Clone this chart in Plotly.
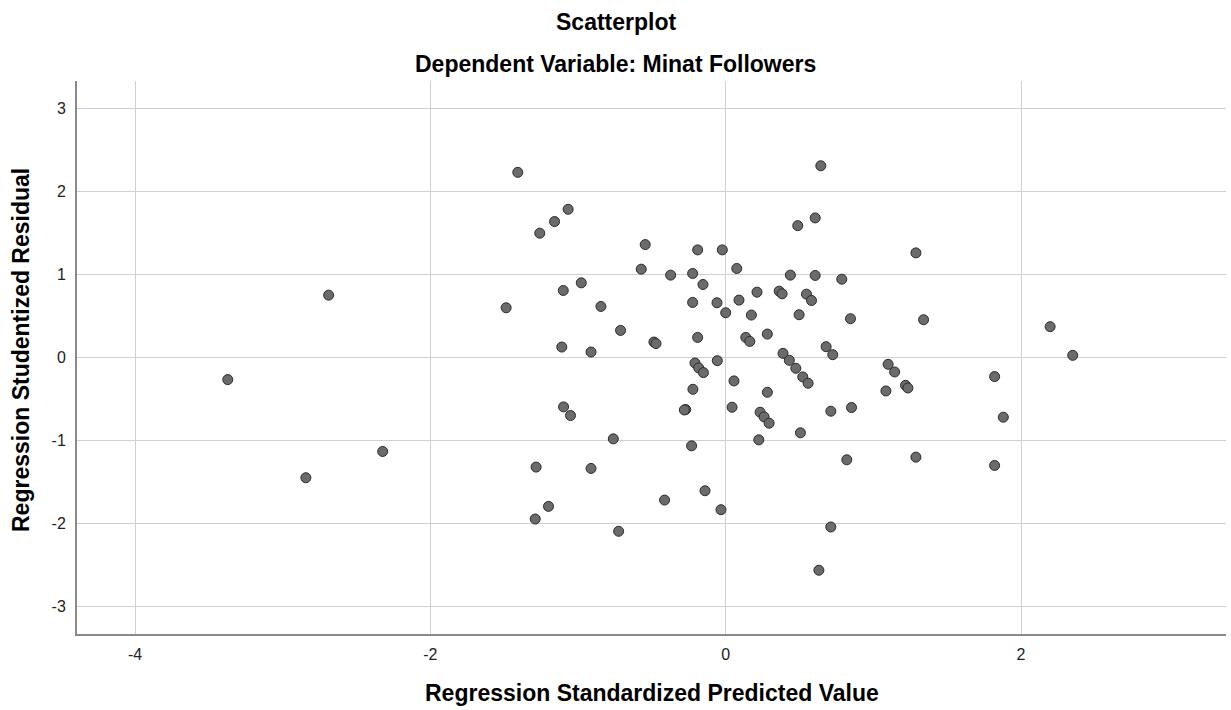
import plotly.graph_objects as go

# Regression Standardized Predicted Value
pred = [
    -1.408, -1.067, -1.159, -1.259, -0.978, -1.100, -1.487, -0.845, -1.110, -0.912,
    -2.689, -3.372,
    -1.098, -1.051, -2.323, -2.843, -1.284, -0.912, -1.200, -1.290,
    0.644, 0.606, 0.488, 1.288, -0.545, -0.190, -0.023, -0.572, -0.373, -0.224,
    0.075, 0.438, 0.606, 0.786, -0.154, -0.224, -0.059, 0.090, 0.212, 0.362,
    0.382, 0.547, 0.581, 0.000, 0.174, 0.497, 0.845, 1.340, -0.712, -0.486,
    -0.472, -0.190, 0.136, 0.163, 0.282, 0.680, 0.725, -0.057, -0.208, -0.183,
    -0.151, 0.388, 0.431, 0.475, 0.522, 0.558, 1.100, 1.144, 0.056,
    -0.222, 0.282, 1.085, 1.218, 1.234, -0.271, -0.280, 0.043, 0.233, 0.260,
    0.294, 0.712, 0.852, -0.761, -0.231, 0.224, 0.506, 0.820, 1.288, -0.140,
    -0.414, -0.032, -0.725, 0.712, 0.631,
    2.197, 2.350, 1.821, 1.880, 1.821,
]

# Regression Studentized Residual
resid = [
    2.232, 1.787, 1.639, 1.499, 0.901, 0.809, 0.601, 0.617, 0.128, 0.068,
    0.753, -0.264,
    -0.593, -0.697, -1.130, -1.446, -1.318, -1.334, -1.791, -1.943,
    2.311, 1.683, 1.590, 1.262, 1.362, 1.298, 1.298, 1.066, 0.994, 1.014,
    1.074, 0.994, 0.990, 0.945, 0.881, 0.665, 0.661, 0.693, 0.789, 0.801,
    0.769, 0.765, 0.689, 0.541, 0.513, 0.517, 0.469, 0.457, 0.328, 0.188,
    0.170, 0.244, 0.244, 0.196, 0.284, 0.132, 0.036, -0.036, -0.064, -0.124,
    -0.180, 0.052, -0.032, -0.128, -0.232, -0.308, -0.080, -0.172, -0.280,
    -0.381, -0.417, -0.401, -0.333, -0.365, -0.625, -0.630, -0.597, -0.657, -0.713,
    -0.789, -0.645, -0.601, -0.978, -1.062, -0.990, -0.905, -1.230, -1.198, -1.603,
    -1.715, -1.831, -2.091, -2.039, -2.560,
    0.373, 0.028, -0.228, -0.717, -1.298,
]

x_ticks = [-4, -2, 0, 2]
y_ticks = [-3, -2, -1, 0, 1, 2, 3]

title_text = "Scatterplot"
subtitle_text = "Dependent Variable: Minat Followers"
x_title = "Regression Standardized Predicted Value"
y_title = "Regression Studentized Residual"

FONT = "Liberation Sans, Arial, sans-serif"

fig = go.Figure(
    go.Scatter(
        x=pred, y=resid, mode="markers",
        marker=dict(size=10, color="#6b6b6b", line=dict(color="#2b2b2b", width=1)),
        hoverinfo="x+y",
    )
)

fig.update_layout(
    width=1231, height=710,
    margin=dict(l=77, r=5, t=81, b=76),
    paper_bgcolor="white", plot_bgcolor="white",
    showlegend=False,
    font=dict(family=FONT, color="#222222"),
    annotations=[
        dict(text=f"<b>{title_text}</b>", xref="paper", yref="paper",
             x=0.4687, y=(634 - 22) / 553, xanchor="center", yanchor="middle",
             showarrow=False, font=dict(size=23, color="black", family=FONT)),
        dict(text=f"<b>{subtitle_text}</b>", xref="paper", yref="paper",
             x=0.4687, y=(634 - 64) / 553, xanchor="center", yanchor="middle",
             showarrow=False, font=dict(size=23, color="black", family=FONT)),
        dict(text=f"<b>{x_title}</b>", xref="paper", yref="paper",
             x=0.5, y=(634 - 693) / 553, xanchor="center", yanchor="middle",
             showarrow=False, font=dict(size=23, color="black", family=FONT)),
        dict(text=f"<b>{y_title}</b>", xref="paper", yref="paper",
             x=(21 - 77) / 1149, y=(634 - 350) / 553, xanchor="center", yanchor="middle",
             textangle=-90,
             showarrow=False, font=dict(size=23, color="black", family=FONT)),
    ],
)

fig.update_xaxes(
    range=[-4.393, 3.388], tickvals=x_ticks, ticktext=[str(v) for v in x_ticks],
    showgrid=True, gridcolor="#d0d0d0", gridwidth=1, zeroline=False,
    showline=True, linecolor="#8a8a8a", linewidth=2,
    ticks="outside", ticklen=5, tickcolor="rgba(0,0,0,0)",
    tickfont=dict(size=16, family=FONT, color="#222222"),
)
fig.update_yaxes(
    range=[-3.328, 3.332], tickvals=y_ticks, ticktext=[str(v) for v in y_ticks],
    showgrid=True, gridcolor="#d0d0d0", gridwidth=1, zeroline=False,
    showline=True, linecolor="#8a8a8a", linewidth=2,
    ticks="outside", ticklen=6, tickcolor="rgba(0,0,0,0)",
    tickfont=dict(size=16, family=FONT, color="#222222"),
)

fig.write_html("out.html")
